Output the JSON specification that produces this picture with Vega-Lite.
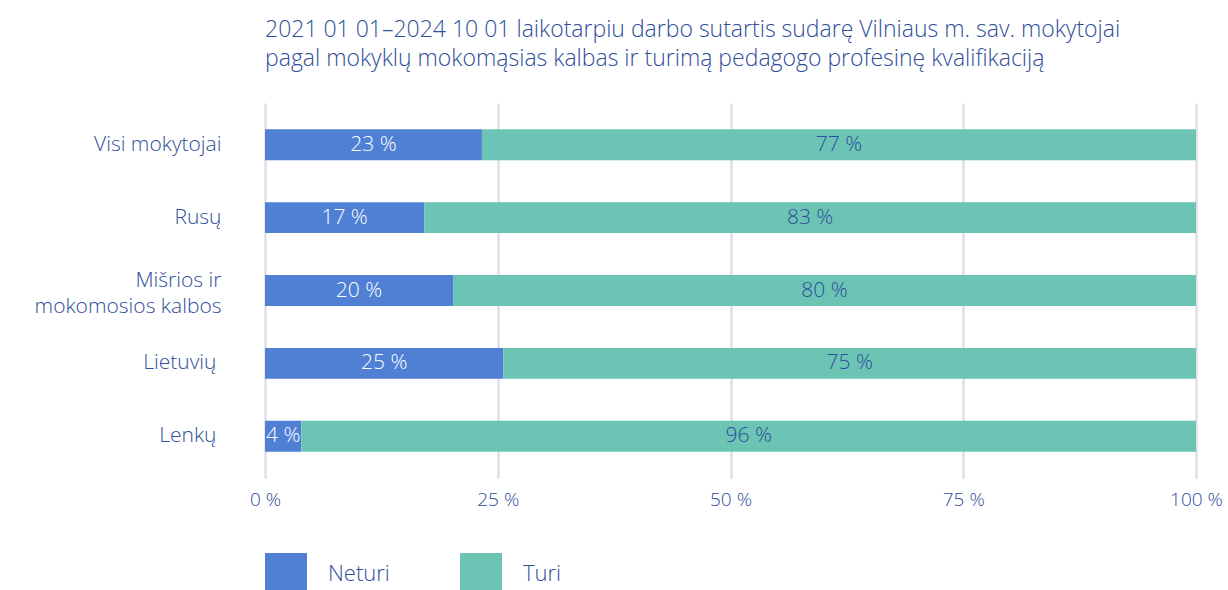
{
  "$schema": "https://vega.github.io/schema/vega-lite/v6.json",
  "autosize": {"type": "none"},
  "padding": {"left": 265, "top": 103, "right": 32, "bottom": 112},
  "width": 931,
  "height": 375,
  "title": {
    "text": ["2021 01 01–2024 10 01 laikotarpiu darbo sutartis sudarę Vilniaus m. sav. mokytojai", "pagal mokyklų mokomąsias kalbas ir turimą pedagogo profesinę kvalifikaciją"],
    "anchor": "start",
    "frame": "group",
    "offset": 32,
    "fontSize": 23,
    "fontWeight": 300,
    "lineHeight": 29,
    "color": "#2f4e9b",
    "font": "Open Sans"
  },
  "data": {
    "values": [
      {"cat": "Visi mokytojai", "series": "Neturi", "pct": 23.3, "label": "23 %"},
      {"cat": "Visi mokytojai", "series": "Turi", "pct": 76.7, "label": "77 %"},
      {"cat": "Rusų", "series": "Neturi", "pct": 17.1, "label": "17 %"},
      {"cat": "Rusų", "series": "Turi", "pct": 82.9, "label": "83 %"},
      {"cat": "Mišrios ir mokomosios kalbos", "series": "Neturi", "pct": 20.2, "label": "20 %"},
      {"cat": "Mišrios ir mokomosios kalbos", "series": "Turi", "pct": 79.8, "label": "80 %"},
      {"cat": "Lietuvių", "series": "Neturi", "pct": 25.6, "label": "25 %"},
      {"cat": "Lietuvių", "series": "Turi", "pct": 74.4, "label": "75 %"},
      {"cat": "Lenkų", "series": "Neturi", "pct": 3.9, "label": "4 %"},
      {"cat": "Lenkų", "series": "Turi", "pct": 96.1, "label": "96 %"}
    ]
  },
  "transform": [
    {"stack": "pct", "groupby": ["cat"], "sort": [{"field": "series"}], "offset": "normalize", "as": ["x0", "x1"]},
    {"calculate": "(datum.x0 + datum.x1) / 2", "as": "xmid"}
  ],
  "encoding": {
    "y": {
      "field": "cat",
      "type": "nominal",
      "sort": ["Visi mokytojai", "Rusų", "Mišrios ir mokomosios kalbos", "Lietuvių", "Lenkų"],
      "scale": {"paddingInner": 0.575, "paddingOuter": 0.36},
      "axis": {
        "title": null,
        "domain": false,
        "ticks": false,
        "grid": false,
        "labelPadding": {"condition": {"test": "datum.label == 'Lietuvių' || datum.label == 'Lenkų'", "value": 49}, "value": 44},
        "labelOffset": {"condition": {"test": "datum.label == 'Mišrios ir mokomosios kalbos'", "value": -10}, "value": 0},
        "labelFontSize": 21,
        "labelFont": "Open Sans",
        "labelFontWeight": 300,
        "labelColor": "#2f4e9b",
        "labelLineHeight": 26,
        "labelLimit": 300,
        "labelExpr": "datum.label == 'Mišrios ir mokomosios kalbos' ? ['Mišrios ir ', 'mokomosios kalbos'] : datum.label"
      }
    }
  },
  "layer": [
    {
      "mark": {"type": "bar"},
      "encoding": {
        "x": {
          "field": "x0",
          "type": "quantitative",
          "scale": {"domain": [0, 1], "nice": false},
          "axis": {
            "title": null,
            "values": [0, 0.25, 0.5, 0.75, 1],
            "labelExpr": "format(datum.value * 100, 'd') + ' %'",
            "labelFlush": false,
            "domain": false,
            "ticks": false,
            "grid": true,
            "gridColor": "#dfdfe8",
            "gridWidth": 2.5,
            "labelPadding": 12,
            "labelFontSize": 19,
            "labelFont": "Open Sans",
            "labelFontWeight": 300,
            "labelColor": "#2f4e9b"
          }
        },
        "x2": {"field": "x1"},
        "color": {
          "field": "series",
          "type": "nominal",
          "scale": {"domain": ["Neturi", "Turi"], "range": ["#4f80d4", "#6cc4b5"]},
          "legend": {
            "title": null,
            "orient": "none",
            "legendX": 0,
            "legendY": 450,
            "direction": "horizontal",
            "symbolType": "square",
            "symbolSize": 1764,
            "symbolStrokeWidth": 0,
            "labelFontSize": 22,
            "labelFont": "Open Sans",
            "labelFontWeight": 300,
            "labelColor": "#2f4e9b",
            "labelOffset": 21,
            "columnPadding": 70,
            "gridAlign": "all",
            "padding": 0
          }
        }
      }
    },
    {
      "mark": {"type": "text", "fontSize": 21, "font": "Open Sans", "fontWeight": 300, "baseline": "middle"},
      "encoding": {
        "x": {"field": "xmid", "type": "quantitative"},
        "text": {"field": "label"},
        "color": {
          "condition": {"test": "datum.series == 'Neturi'", "value": "#ffffff"},
          "value": "#2f4e9b"
        }
      }
    }
  ],
  "config": {"view": {"stroke": null}}
}
